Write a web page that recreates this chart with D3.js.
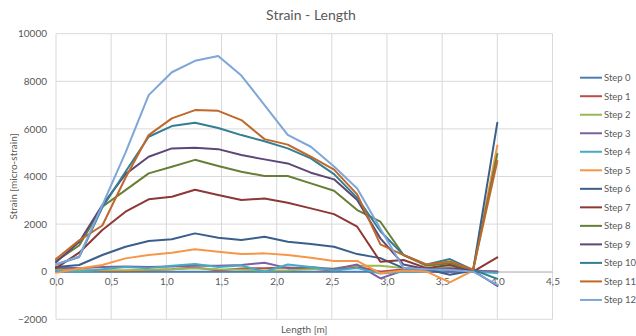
<!DOCTYPE html>
<html>
<head>
<meta charset="utf-8">
<script src="https://cdn.jsdelivr.net/npm/d3@7"></script>
<style>
  html, body { margin: 0; padding: 0; background: #fff; }
  svg { display: block; font-family: Lato, "Open Sans", sans-serif; }
</style>
</head>
<body>
<svg id="chart" width="636" height="336"></svg>
<script>
// Measuring positions along the member [m]
const lengths = [0, 0.21, 0.42, 0.63, 0.84, 1.05, 1.26, 1.47, 1.68, 1.89, 2.10, 2.31, 2.52, 2.73, 2.94, 3.15, 3.36, 3.57, 3.78, 4.0];

// Strain readings per load step [micro-strain]
const step0  = [0, 0, 0, 0, 0, 0, 0, 0, 0, 0, 0, 0, 0, 0, 0, 0, 0, 0, 0, 0];
const step1  = [150, 60, 30, 20, 60, 100, 180, 50, 130, 150, 180, 120, 50, 220, 0, 100, 100, 120, 50, 0];
const step2  = [80, 50, 60, 60, 80, 100, 150, 100, 80, 50, 60, 100, 150, 250, 250, 150, 100, 250, 0, 0];
const step3  = [200, 150, 200, 220, 200, 220, 250, 250, 280, 380, 150, 200, 100, 300, -280, 50, 0, 0, 50, 0];
const step4  = [50, 0, 100, 200, 150, 250, 320, 200, 260, 0, 300, 200, 50, 150, -80, 0, 0, 80, 0, -50];
const step5  = [-50, 130, 280, 560, 700, 800, 940, 840, 740, 770, 700, 590, 450, 450, -70, 50, 0, -450, 50, 5300];
const step6  = [200, 280, 700, 1050, 1290, 1360, 1610, 1430, 1330, 1470, 1260, 1160, 1050, 740, 570, 150, 100, -130, 50, 6260];
const step7  = [150, 800, 1750, 2520, 3040, 3150, 3440, 3220, 3010, 3080, 2900, 2660, 2420, 1890, 420, 490, 150, 290, 0, 600];
const step8  = [450, 1100, 2730, 3430, 4130, 4410, 4700, 4440, 4200, 4020, 4020, 3710, 3400, 2590, 2100, 700, 250, 360, 50, 4950];
const step9  = [400, 1250, 2800, 4100, 4830, 5180, 5210, 5150, 4900, 4720, 4550, 4160, 3880, 3010, 1400, 300, 100, 150, 50, -600];
const step10 = [300, 620, 2700, 4200, 5670, 6120, 6260, 6040, 5740, 5480, 5180, 4760, 4100, 3100, 1700, 700, 300, 530, 80, -300];
const step11 = [530, 1320, 1940, 3950, 5740, 6440, 6790, 6760, 6370, 5570, 5340, 4830, 4290, 3250, 1150, 700, 300, 430, 80, 4650];
const step12 = [300, 640, 2800, 5000, 7420, 8380, 8860, 9060, 8240, 7000, 5750, 5250, 4420, 3500, 1800, 150, 100, 80, 0, -550];

const seriesNames = ["Step 0", "Step 1", "Step 2", "Step 3", "Step 4", "Step 5", "Step 6",
                     "Step 7", "Step 8", "Step 9", "Step 10", "Step 11", "Step 12"];
const seriesValues = [step0, step1, step2, step3, step4, step5, step6,
                      step7, step8, step9, step10, step11, step12];
const seriesColors = ["#4A7EBB", "#BE4B48", "#98B954", "#7D60A0", "#46AAC5", "#F79646", "#3A5F8B",
                      "#8C3836", "#667F36", "#5C4776", "#357D91", "#C0682A", "#7EA6D8"];

const xTicks = [0, 0.5, 1.0, 1.5, 2.0, 2.5, 3.0, 3.5, 4.0, 4.5];
const yTicks = [-2000, 0, 2000, 4000, 6000, 8000, 10000];

const svg = d3.select("#chart");
const plot = { left: 56, right: 552.5, top: 33.7, bottom: 319.3 };

const x = d3.scaleLinear().domain([0, 4.5]).range([plot.left, plot.right]);
const y = d3.scaleLinear().domain([-2000, 10000]).range([plot.bottom, plot.top]);

const textColor = "#595959";
const gridColor = "#d9d9d9";

// Gridlines
const grid = svg.append("g");
grid.selectAll("line.h").data(yTicks).enter().append("line")
  .attr("x1", plot.left).attr("x2", plot.right)
  .attr("y1", d => y(d)).attr("y2", d => y(d))
  .attr("stroke", gridColor).attr("stroke-width", 1);
grid.selectAll("line.v").data(xTicks).enter().append("line")
  .attr("y1", plot.top).attr("y2", plot.bottom)
  .attr("x1", d => x(d)).attr("x2", d => x(d))
  .attr("stroke", gridColor).attr("stroke-width", 1);

// Horizontal axis sits on the zero line, labels just under it
const fmt = d3.formatLocale({ decimal: ",", thousands: ".", grouping: [3], currency: ["", ""] }).format(".1f");
const xAxis = d3.axisBottom(x).tickValues(xTicks).tickFormat(fmt).tickSize(0).tickPadding(6);
const xg = svg.append("g").attr("transform", `translate(0,${y(0)})`).call(xAxis);
xg.select(".domain").attr("stroke", "#bfbfbf");
xg.selectAll("text").attr("fill", textColor).style("font-size", "10px")
  .style("font-family", "Lato, 'Open Sans', sans-serif");

const yAxis = d3.axisLeft(y).tickValues(yTicks).tickFormat(d3.format("d")).tickSize(0).tickPadding(9);
const yg = svg.append("g").attr("transform", `translate(${plot.left},0)`).call(yAxis);
yg.select(".domain").remove();
yg.selectAll("text").attr("fill", textColor).style("font-size", "10px")
  .style("font-family", "Lato, 'Open Sans', sans-serif");

// Series lines
const line = d3.line().x((d, i) => x(lengths[i])).y(d => y(d));
svg.append("g").selectAll("path").data(seriesValues).enter().append("path")
  .attr("d", d => line(d))
  .attr("fill", "none")
  .attr("stroke", (d, i) => seriesColors[i])
  .attr("stroke-width", 2)
  .attr("stroke-linejoin", "round")
  .attr("stroke-linecap", "round");

// Title and axis titles
svg.append("text").attr("x", 311).attr("y", 20).attr("text-anchor", "middle")
  .attr("fill", textColor).style("font-size", "14px").text("Strain - Length");
svg.append("text").attr("x", (plot.left + plot.right) / 2).attr("y", 333)
  .attr("text-anchor", "middle").attr("fill", textColor).style("font-size", "10px").text("Length [m]");
svg.append("text").attr("transform", `translate(13,${(plot.top + plot.bottom) / 2}) rotate(-90)`)
  .attr("text-anchor", "middle").attr("fill", textColor).style("font-size", "10px")
  .attr("dy", "0.35em").text("Strain [micro-strain]");

// Legend
const legend = svg.append("g");
const legendRows = legend.selectAll("g").data(seriesNames).enter().append("g")
  .attr("transform", (d, i) => `translate(580,${77.7 + i * 18.52})`);
legendRows.append("line").attr("x1", 0).attr("x2", 22).attr("y1", 0).attr("y2", 0)
  .attr("stroke", (d, i) => seriesColors[i]).attr("stroke-width", 2);
legendRows.append("text").attr("x", 24).attr("y", 3.3).attr("fill", textColor)
  .style("font-size", "9.5px").text(d => d);
</script>
</body>
</html>
